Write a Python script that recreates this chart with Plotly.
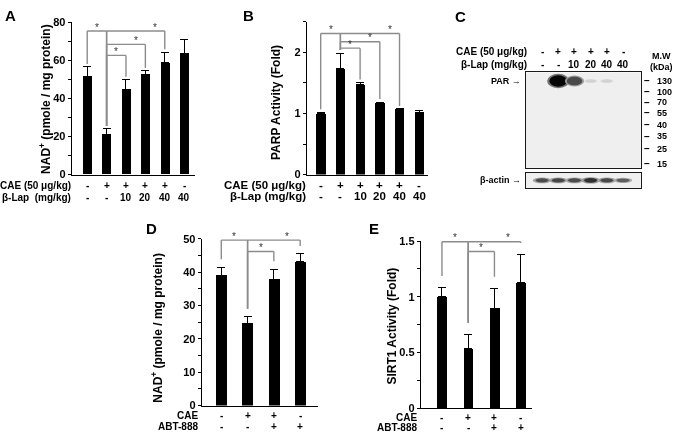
import numpy as np
import plotly.graph_objects as go

W, H = 675, 441
FONT = "Arial, 'Liberation Sans', sans-serif"

# ---------------- data ----------------
# Panel A: NAD+ (pmole / mg protein)
a_cae = ["-", "+", "+", "+", "+", "-"]
a_lap = ["-", "-", "10", "20", "40", "40"]
a_nad = [51.6, 21.1, 44.9, 52.6, 58.7, 63.5]
a_nad_err = [4.9, 2.9, 5.0, 1.9, 5.6, 7.6]
a_sig = [(0, 1), (1, 4), (1, 3), (1, 2)]

# Panel B: PARP activity (fold)
b_cae = ["-", "+", "+", "+", "+", "-"]
b_lap = ["-", "-", "10", "20", "40", "40"]
b_parp = [1.00, 1.735, 1.47, 1.178, 1.07, 1.024]
b_parp_err = [0.02, 0.255, 0.04, 0.01, 0.006, 0.032]
b_sig = [(0, 1), (1, 4), (1, 3), (1, 2)]

# Panel C: western blot
c_cae = ["-", "+", "+", "+", "+", "-"]
c_lap = ["-", "-", "10", "20", "40", "40"]
par_intensity = [0.0, 1.0, 0.7, 0.1, 0.1, 0.0]
actin_intensity = [0.78, 0.82, 0.78, 0.95, 0.8, 0.66]
par_rf = 0.09
mw_kda = ["130", "100", "70", "55", "40", "35", "25", "15"]
mw_rf = [0.085, 0.203, 0.315, 0.424, 0.549, 0.671, 0.803, 0.960]

# Panel D: NAD+ with ABT-888
d_cae = ["-", "+", "+", "-"]
d_abt = ["-", "-", "+", "+"]
d_nad = [39.1, 24.7, 37.9, 43.2]
d_nad_err = [2.4, 2.0, 3.0, 2.3]
d_sig = [(0, 1), (1, 3), (1, 2)]

# Panel E: SIRT1 activity (fold)
e_cae = ["-", "+", "+", "-"]
e_abt = ["-", "-", "+", "+"]
e_sirt1 = [1.0, 0.533, 0.894, 1.127]
e_sirt1_err = [0.081, 0.128, 0.181, 0.251]
e_sig = [(0, 1), (1, 3), (1, 2)]


def px(x):
    return x / W


def py(y):
    return 1 - y / H


fig = go.Figure()
shapes, annots = [], []
layout_axes = {}

TICK = 11
panels = [
    dict(n="", vals=a_nad, err=a_nad_err, sig=a_sig, rows=[("CAE (50 μg/kg)", a_cae), ("β-Lap\u00a0 (mg/kg)", a_lap)],
         title="NAD<sup>+</sup> (pmole / mg protein)", left=71.7, right=195, top=16.7, bottom=173.3,
         xr=[-0.8, 5.56], ymax=80, dtick=20, mdtick=10, bw=0.46, gap_px=3, row_font=10,
         levels=[75.4, 75.4, 68.4, 62.6], row_y=[184.5, 197], lab_dx=1.5, title_x=45.5, title_y=95),
    dict(n="2", vals=b_parp, err=b_parp_err, sig=b_sig, rows=[("CAE (50 μg/kg)", b_cae), ("β-Lap (mg/kg)", b_lap)],
         title="PARP Activity (Fold)", left=306.7, right=428.3, top=16.3, bottom=173.3,
         xr=[-0.71, 5.46], ymax=2.5, dtick=1, mdtick=0.5, bw=0.47, gap_px=3, row_font=11.5,
         levels=[2.31, 2.31, 2.175, 2.07], row_y=[184, 195.5], lab_dx=1.5, title_x=276.7, title_y=99),
    dict(n="3", vals=d_nad, err=d_nad_err, sig=d_sig, rows=[("CAE", d_cae), ("ABT-888", d_abt)],
         title="NAD<sup>+</sup> (pmole / mg protein)", left=201.7, right=318.3, top=239.3, bottom=410.7,
         xr=[-0.745, 3.69], ymax=50, dtick=10, mdtick=5, bw=0.41, gap_px=8, row_font=10,
         levels=[49.6, 49.6, 46.2], row_y=[421, 432.5], lab_dx=-1.5, title_x=156.7, title_y=331),
    dict(n="4", vals=e_sirt1, err=e_sirt1_err, sig=e_sig, rows=[("CAE", e_cae), ("ABT-888", e_abt)],
         title="SIRT1 Activity (Fold)", left=420.7, right=531.7, top=241.7, bottom=413.3,
         xr=[-0.81, 3.42], ymax=1.5, dtick=0.5, mdtick=0.25, bw=0.38, gap_px=12, row_font=10,
         levels=[1.495, 1.495, 1.407], row_y=[422.5, 433.5], lab_dx=-1.5, title_x=392.5, title_y=329),
]

for p in panels:
    xa, ya = "x" + p["n"], "y" + p["n"]
    n = len(p["vals"])
    xs = np.arange(n)
    vals = np.array(p["vals"])
    err = np.array(p["err"])
    fig.add_trace(go.Bar(
        x=xs, y=vals, width=p["bw"], marker=dict(color="black", line=dict(width=0)),
        error_y=dict(type="data", array=err, arrayminus=np.zeros(n), symmetric=False,
                     color="black", thickness=1, width=4),
        xaxis=xa, yaxis=ya, showlegend=False, hoverinfo="skip"))
    layout_axes["xaxis" + p["n"]] = dict(
        domain=[px(p["left"]), px(p["right"])], range=p["xr"], anchor=ya,
        showline=True, linecolor="black", linewidth=1, ticks="", showticklabels=False,
        showgrid=False, zeroline=False, fixedrange=True)
    layout_axes["yaxis" + p["n"]] = dict(
        domain=[py(p["bottom"]), py(p["top"])], range=[0, p["ymax"]], anchor=xa,
        showline=True, linecolor="black", linewidth=1, ticks="outside", ticklen=3,
        tickcolor="black", dtick=p["dtick"], tick0=0, showgrid=False, zeroline=False,
        tickfont=dict(family=FONT, size=TICK, color="black", weight=700),
        minor=dict(ticks="outside", ticklen=3, dtick=p["mdtick"], tick0=0, tickcolor="black",
                   showgrid=False),
        fixedrange=True)
    # significance brackets
    unit = p["ymax"] / (p["bottom"] - p["top"])
    gap = p["gap_px"] * unit
    tops = vals + err
    bcol, bw_ = "#8c8c8c", 1.4
    for (i, j), lev in zip(p["sig"], p["levels"]):
        for (x0, y0, x1, y1) in [(i, lev, j, lev), (i, lev, i, tops[i] + gap), (j, lev, j, tops[j] + gap)]:
            shapes.append(dict(type="line", xref=xa, yref=ya, x0=x0, y0=y0, x1=x1, y1=y1,
                               line=dict(color=bcol, width=bw_)))
        annots.append(dict(xref=xa, yref=ya, x=j - 0.5, y=lev, text="*", showarrow=False,
                           yanchor="middle", yshift=4, font=dict(family=FONT, size=10, color="#333")))
    # row labels beneath axis
    rf = dict(family=FONT, size=p["row_font"], color="black", weight=700)
    for (label, syms), ry in zip(p["rows"], p["row_y"]):
        annots.append(dict(xref="paper", yref="paper", x=px(p["left"] + p["lab_dx"]), y=py(ry),
                           xanchor="right", yanchor="middle", text=label, showarrow=False, font=rf))
        for k, s in enumerate(syms):
            annots.append(dict(xref=xa, yref="paper", x=k, y=py(ry), xanchor="center",
                               yanchor="middle", text=s, showarrow=False, font=rf))
    # y axis title
    annots.append(dict(xref="paper", yref="paper", x=px(p["title_x"]), y=py(p["title_y"]),
                       text=p["title"], textangle=-90, showarrow=False, xanchor="center",
                       yanchor="middle", font=dict(family=FONT, size=12, color="black", weight=700)))

# ---------------- Panel C: western blot ----------------
lane_x = np.arange(len(c_cae))
c_left, c_right = 526, 640.7
par_top, par_bottom = 68.3, 166.2
act_top, act_bottom = 171.2, 187.3
c_xr = [-0.99, 6.09]
for nm, (t, b) in {"5": (par_top, par_bottom), "6": (act_top, act_bottom)}.items():
    layout_axes["xaxis" + nm] = dict(domain=[px(c_left), px(c_right)], range=c_xr, anchor="y" + nm,
                                     showline=True, mirror=True, linecolor="#1a1a1a", linewidth=1.2,
                                     ticks="", showticklabels=False, showgrid=False, zeroline=False,
                                     fixedrange=True)
    layout_axes["yaxis" + nm] = dict(domain=[py(b), py(t)], range=[1, 0], anchor="x" + nm,
                                     showline=True, mirror=True, linecolor="#1a1a1a", linewidth=1.2,
                                     ticks="", showticklabels=False, showgrid=False, zeroline=False,
                                     fixedrange=True)
    shapes.append(dict(type="rect", xref="x%s domain" % nm, yref="y%s domain" % nm, x0=0, x1=1, y0=0, y1=1,
                       fillcolor="#efefef", line=dict(width=0), layer="below"))
    fig.add_trace(go.Scatter(x=lane_x, y=[0.5] * len(lane_x), mode="markers", marker=dict(opacity=0),
                             xaxis="x" + nm, yaxis="y" + nm, showlegend=False, hoverinfo="skip"))


def gray(v):
    g = int(max(0, min(255, round(v))))
    return "rgb(%d,%d,%d)" % (g, g, g)


# PAR bands (soft outer halo + core)
for i, p_int in enumerate(par_intensity):
    if p_int < 0.03:
        continue
    hw = 0.3 + 0.25 * p_int
    hh = 0.012 + 0.048 * p_int
    for scale, shade in [(1.25, 235 - 120 * p_int), (1.0, 232 - 225 * p_int)]:
        shapes.append(dict(type="circle", xref="x5", yref="y5", x0=i - hw * scale, x1=i + hw * scale,
                           y0=par_rf - hh * scale, y1=par_rf + hh * scale,
                           fillcolor=gray(shade), line=dict(width=0)))

# beta-actin bands
for i, a_int in enumerate(actin_intensity):
    hw = 0.43
    hh = 0.06 + 0.09 * a_int
    for scale, shade in [(1.4, 225 - 80 * a_int), (1.0, 200 - 160 * a_int)]:
        shapes.append(dict(type="circle", xref="x6", yref="y6", x0=i - hw * scale * 0.95, x1=i + hw * scale * 0.95,
                           y0=0.5 - hh * scale, y1=0.5 + hh * scale,
                           fillcolor=gray(shade), line=dict(width=0)))

# header rows
bold10 = dict(family=FONT, size=10, color="black", weight=700)
for (label, syms), ry in zip([("CAE (50 μg/kg)", c_cae), ("β-Lap (mg/kg)", c_lap)], [46.7, 60]):
    annots.append(dict(xref="paper", yref="paper", x=px(529), y=py(ry), xanchor="right", yanchor="middle",
                       text=label, showarrow=False, font=bold10))
    for k, s in enumerate(syms):
        annots.append(dict(xref="x5", yref="paper", x=k, y=py(ry), xanchor="center", yanchor="middle",
                           text=s, showarrow=False, font=bold10))

bold9 = dict(family=FONT, size=9, color="black", weight=700)
annots.append(dict(xref="paper", yref="y5", x=px(523), y=par_rf, xanchor="right", yanchor="middle",
                   text="PAR →", showarrow=False, font=bold9))
annots.append(dict(xref="paper", yref="y6", x=px(523), y=0.5, xanchor="right", yanchor="middle",
                   text="β-actin →", showarrow=False, font=bold9))
for lab, rf_ in zip(mw_kda, mw_rf):
    annots.append(dict(xref="paper", yref="y5", x=px(647), y=rf_, xanchor="center", yanchor="middle",
                       text="–", showarrow=False, font=dict(family=FONT, size=10, color="black", weight=700)))
    annots.append(dict(xref="paper", yref="y5", x=px(655), y=rf_, xanchor="left", yanchor="middle",
                       text=lab, showarrow=False, font=bold9))
annots.append(dict(xref="paper", yref="paper", x=px(661), y=py(51.7), xanchor="center", yanchor="middle",
                   text="M.W", showarrow=False, font=bold9))
annots.append(dict(xref="paper", yref="paper", x=px(661), y=py(62.7), xanchor="center", yanchor="middle",
                   text="(kDa)", showarrow=False, font=bold9))

# panel letters
for letter, lx, ly in [("A", 10, 10), ("B", 248, 10), ("C", 460, 11), ("D", 151, 229), ("E", 374, 229)]:
    annots.append(dict(xref="paper", yref="paper", x=px(lx), y=py(ly), xanchor="center", yanchor="middle",
                       text=letter, showarrow=False, font=dict(family=FONT, size=15, color="black", weight=700)))

fig.update_layout(
    width=W, height=H, autosize=False, margin=dict(l=0, r=0, t=0, b=0, pad=0),
    paper_bgcolor="white", plot_bgcolor="white", showlegend=False,
    font=dict(family=FONT, color="black"), shapes=shapes, annotations=annots,
    bargap=0, **layout_axes)

fig.write_html("out.html", config={"displayModeBar": False},
               post_script="document.body.style.margin='0';document.body.style.padding='0';"
                           "document.body.style.overflow='hidden';"
                           "var gd=document.getElementById('{plot_id}');"
                           "if(gd){gd.style.willChange='transform';}")
